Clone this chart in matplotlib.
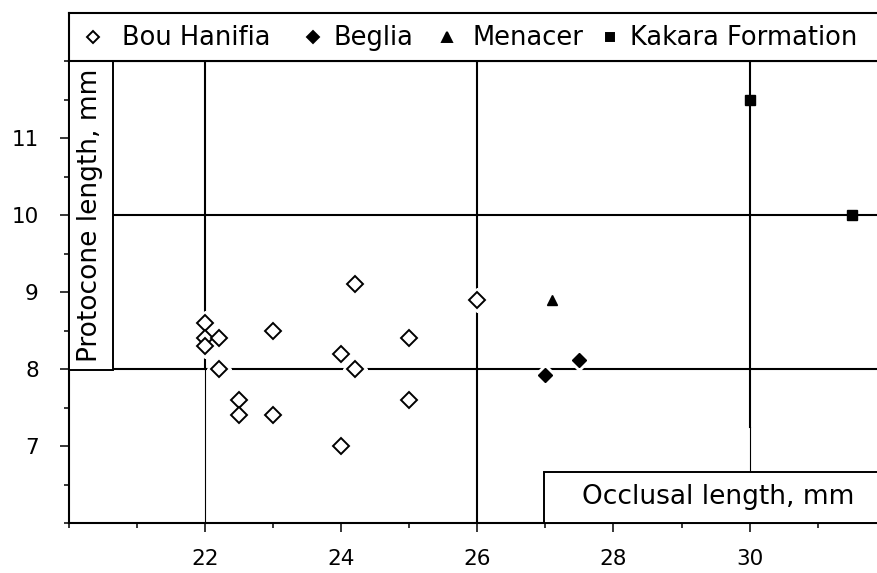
import numpy as np
import matplotlib.pyplot as plt
from matplotlib.patches import Rectangle
from matplotlib.ticker import MultipleLocator

# data
bou_x = [22.0, 22.0, 22.0, 22.2, 22.2, 22.5, 22.5, 23.0, 23.0, 24.2, 24.0, 24.2, 24.0, 25.0, 25.0, 26.0]
bou_y = [8.6, 8.4, 8.3, 8.4, 8.0, 7.6, 7.4, 8.5, 7.4, 9.1, 8.2, 8.0, 7.0, 8.4, 7.6, 8.9]
beg_x = [27.0, 27.5]
beg_y = [7.92, 8.12]
men_x = [27.1]
men_y = [8.9]
kak_x = [30.0, 31.5]
kak_y = [11.5, 10.0]

ref_x = [22, 26, 30]
ref_y = [8, 10]
xlo, xhi = 20, 31.87
ylo, yhi = 6, 12

plt.rcParams['font.family'] = 'DejaVu Sans'

fig = plt.figure(figsize=(8.77, 5.73), dpi=100)
W, H = 877., 573.
ax = fig.add_axes([68.7 / W, 50 / H, 1 - 68.7 / W, 462 / H])
ax.set_xlim(xlo, xhi)
ax.set_ylim(ylo, yhi)

# reference lines (thick upper part, thin lower part like the original)
def yfrac(v):
    return (v - ylo) / (yhi - ylo)

ax.axvline(ref_x[0], ymin=yfrac(8), ymax=1, color='k', lw=1.5, zorder=1)
ax.axvline(ref_x[0], ymin=0, ymax=yfrac(8), color='k', lw=0.8, zorder=1)
ax.axvline(ref_x[1], color='k', lw=1.5, zorder=1)
ax.axvline(ref_x[2], ymin=yfrac(7.25), ymax=1, color='k', lw=1.5, zorder=1)
ax.axvline(ref_x[2], ymin=0, ymax=yfrac(7.25), color='k', lw=0.8, zorder=1)
for v in ref_y:
    ax.axhline(v, color='k', lw=1.5, zorder=1)

# white halos so lines break around markers
ax.plot(bou_x, bou_y, ls='none', marker='D', ms=12.5, mfc='white', mec='white', zorder=3)
ax.plot(beg_x, beg_y, ls='none', marker='D', ms=11, mfc='white', mec='white', zorder=3)
ax.plot(men_x, men_y, ls='none', marker='^', ms=12, mfc='white', mec='white', zorder=3)

ax.plot(bou_x, bou_y, ls='none', marker='D', ms=8, mfc='white', mec='k', mew=1.4, zorder=4)
ax.plot(beg_x, beg_y, ls='none', marker='D', ms=7, mfc='k', mec='k', zorder=4)
ax.plot(men_x, men_y, ls='none', marker='^', ms=7.5, mfc='k', mec='k', zorder=4)
ax.plot(kak_x, kak_y, ls='none', marker='s', ms=7, mfc='k', mec='k', zorder=4)

# axis label boxes
ax.add_patch(Rectangle((0, 0.331), 0.0548, 0.669, transform=ax.transAxes,
                       facecolor='white', edgecolor='k', lw=1.4, zorder=5))
ax.text(0.0264, 0.665, 'Protocone length, mm', rotation=90, transform=ax.transAxes,
        ha='center', va='center', fontsize=19, zorder=6)
ax.add_patch(Rectangle((0.588, 0), 0.5, 0.110, transform=ax.transAxes,
                       facecolor='white', edgecolor='k', lw=1.4, zorder=5))
ax.text(0.803, 0.056, 'Occlusal length, mm', transform=ax.transAxes,
        ha='center', va='center', fontsize=19, zorder=6)

# ticks
ax.set_xticks([22, 24, 26, 28, 30])
ax.xaxis.set_minor_locator(MultipleLocator(1))
ax.set_yticks([7, 8, 9, 10, 11])
ax.yaxis.set_minor_locator(MultipleLocator(0.5))
ax.tick_params(which='major', direction='out', length=6.5, width=1.1, labelsize=15.5)
ax.tick_params(which='minor', direction='out', length=3.6, width=1.1)
ax.tick_params(axis='x', pad=12)
ax.tick_params(axis='y', pad=15)

for s in ['left', 'bottom', 'top']:
    ax.spines[s].set_linewidth(1.5)
ax.spines['right'].set_visible(False)

# legend band above the plot
lax = fig.add_axes([68.7 / W, 1 - 61 / H, 1 - 68.7 / W, 48 / H])
lax.set_xlim(0, 1)
lax.set_ylim(0, 1)
lax.set_xticks([])
lax.set_yticks([])
for s in ['left', 'top', 'bottom']:
    lax.spines[s].set_linewidth(1.5)
lax.spines['right'].set_visible(False)

entries = [('Bou Hanifia', 'D', 'white', 6.5, 0.030, 0.066),
           ('Beglia', 'D', 'k', 6.5, 0.302, 0.327),
           ('Menacer', '^', 'k', 7, 0.468, 0.499),
           ('Kakara Formation', 's', 'k', 6, 0.670, 0.694)]
for name, m, fc, ms, mx, tx in entries:
    lax.plot([mx], [0.5], ls='none', marker=m, ms=ms, mfc=fc, mec='k', mew=1.4)
    lax.text(tx, 0.48, name, ha='left', va='center', fontsize=18.5)

fig.savefig('out.png', dpi=100)
